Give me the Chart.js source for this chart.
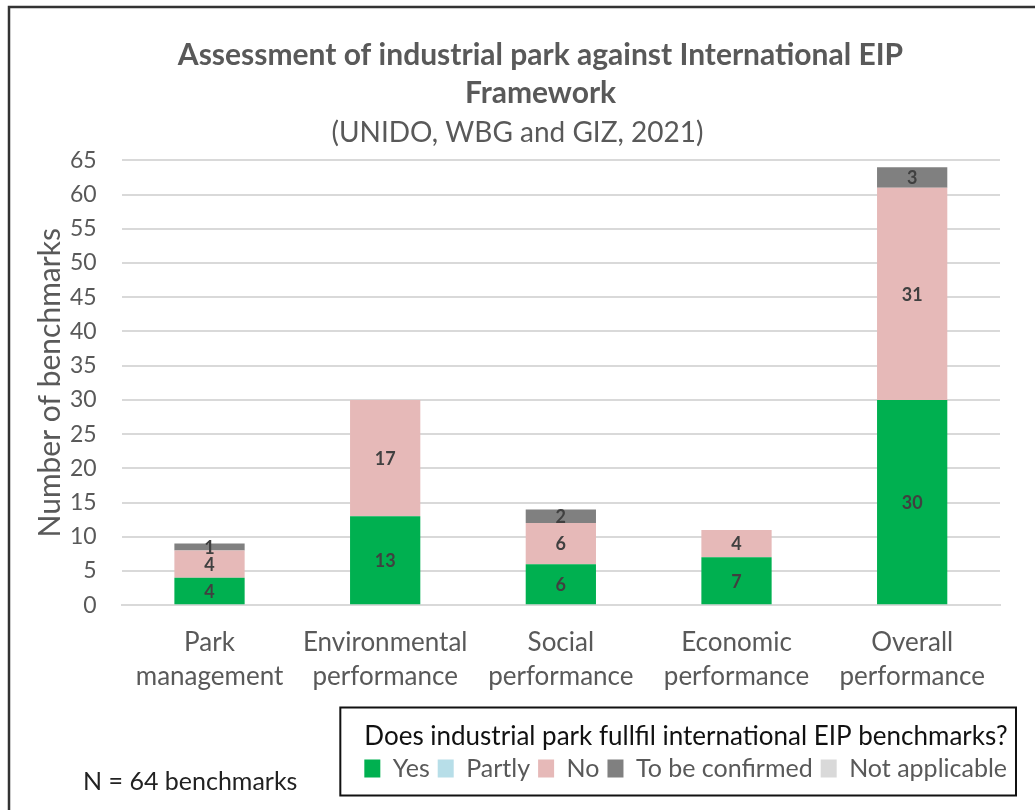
<!DOCTYPE html>
<html>
<head>
<meta charset="utf-8">
<script src="https://cdn.jsdelivr.net/npm/chart.js@4.4.1/dist/chart.umd.min.js"></script>
<style>
  html, body { margin: 0; padding: 0; background: #fff; }
  #wrap { position: relative; width: 1035px; height: 810px; }
</style>
</head>
<body>
<div id="wrap"><canvas id="chart" width="1035" height="810"></canvas></div>
<script>
const categories = [["Park", "management"], ["Environmental", "performance"], ["Social", "performance"], ["Economic", "performance"], ["Overall", "performance"]];
const yesValues = [4, 13, 6, 7, 30];
const partlyValues = [0, 0, 0, 0, 0];
const noValues = [4, 17, 6, 4, 31];
const confirmValues = [1, 0, 2, 0, 3];
const naValues = [0, 0, 0, 0, 0];
const yTicks = [0, 5, 10, 15, 20, 25, 30, 35, 40, 45, 50, 55, 60, 65];

const FONT = "Lato, 'Open Sans', sans-serif";
const GREY = "#595959";

// value labels + frame + footnote + legend border
const extras = {
    id: "extras",
    afterLayout(chart) {
        // the original frame runs past the right edge, so titles sit a bit right of the plot centre
        [chart.titleBlock, chart.subtitleBlock].forEach(b => {
            if (b) { b.left += 23; b.right += 23; }
        });
        if (chart.legend) { chart.legend.left += 15; chart.legend.right += 15; }
    },
    beforeDraw(chart) {
        const ctx = chart.ctx;
        ctx.save();
        ctx.strokeStyle = "#333";
        ctx.lineWidth = 2.5;
        ctx.beginPath();
        ctx.moveTo(9, 830);
        ctx.lineTo(9, 7);
        ctx.lineTo(1040, 7);
        ctx.stroke();
        ctx.restore();
    },
    afterDatasetsDraw(chart) {
        const ctx = chart.ctx;
        ctx.save();
        ctx.font = "bold 18px " + FONT;
        ctx.fillStyle = "#404040";
        ctx.textAlign = "center";
        ctx.textBaseline = "middle";
        chart.data.datasets.forEach((ds, i) => {
            const meta = chart.getDatasetMeta(i);
            meta.data.forEach((bar, j) => {
                const v = ds.data[j];
                if (!v) return;
                const mid = (bar.y + bar.base) / 2;
                ctx.fillText(String(v), bar.x, mid + 1);
            });
        });
        ctx.restore();
    },
    afterDraw(chart) {
        const ctx = chart.ctx;
        const lg = chart.legend;
        ctx.save();
        if (lg && lg.legendHitBoxes && lg.legendHitBoxes.length) {
            const boxes = lg.legendHitBoxes;
            const l = Math.min(...boxes.map(b => b.left)) - 24;
            const r = Math.max(...boxes.map(b => b.left + b.width)) + 9;
            const itemMid = boxes[0].top + boxes[0].height / 2;
            const top = itemMid - 61;
            const bottom = itemMid + 27;
            ctx.strokeStyle = "#111";
            ctx.lineWidth = 2;
            ctx.strokeRect(l, top, r - l, bottom - top);
        }
        ctx.font = "25px " + FONT;
        ctx.fillStyle = "#222";
        ctx.textBaseline = "middle";
        ctx.textAlign = "left";
        ctx.fillText("N = 64 benchmarks", 83, 782);
        ctx.restore();
    }
};

new Chart(document.getElementById("chart"), {
    type: "bar",
    data: {
        labels: categories,
        datasets: [
            { label: "Yes", data: yesValues, backgroundColor: "#00b050" },
            { label: "Partly", data: partlyValues, backgroundColor: "#b7dee8" },
            { label: "No", data: noValues, backgroundColor: "#e6b9b8" },
            { label: "To be confirmed", data: confirmValues, backgroundColor: "#808080" },
            { label: "Not applicable", data: naValues, backgroundColor: "#d9d9d9" }
        ]
    },
    options: {
        responsive: false,
        animation: false,
        devicePixelRatio: 1,
        datasets: { bar: { categoryPercentage: 1, barPercentage: 0.4 } },
        layout: { padding: { top: 36, left: 35, right: 35, bottom: 19 } },
        plugins: {
            title: {
                display: true,
                text: ["Assessment of industrial park against International EIP", "Framework"],
                color: GREY,
                font: { family: FONT, size: 30, weight: "bold", lineHeight: 1.27 },
                padding: { top: 0, bottom: 1 }
            },
            subtitle: {
                display: true,
                text: "(UNIDO, WBG and GIZ, 2021)",
                color: GREY,
                font: { family: FONT, size: 28, lineHeight: 1.4 },
                padding: { top: 0, bottom: 8 }
            },
            legend: {
                position: "bottom",
                align: "end",
                title: {
                    display: true,
                    text: "Does industrial park fullfil international EIP benchmarks?",
                    color: "#111",
                    position: "start",
                    font: { family: FONT, size: 26, lineHeight: 1.2 },
                    padding: { top: 17, bottom: -7 }
                },
                labels: {
                    color: GREY,
                    boxWidth: 16,
                    boxHeight: 18,
                    padding: 8,
                    font: { family: FONT, size: 25, lineHeight: 1.25 }
                }
            },
            tooltip: { enabled: false }
        },
        scales: {
            x: {
                stacked: true,
                grid: { display: false },
                border: { color: "#d9d9d9", width: 2 },
                ticks: { color: GREY, font: { family: FONT, size: 26, lineHeight: 1.3 }, padding: 13 }
            },
            y: {
                stacked: true,
                min: 0,
                max: 65,
                afterBuildTicks: (axis) => { axis.ticks = yTicks.map(v => ({ value: v })); },
                grid: { color: "#d9d9d9", lineWidth: 2, drawTicks: false },
                border: { display: false },
                ticks: { color: GREY, font: { family: FONT, size: 23 }, padding: 25 },
                title: {
                    display: true,
                    text: "Number of benchmarks",
                    color: GREY,
                    font: { family: FONT, size: 30, lineHeight: 1 },
                    padding: { top: 0, bottom: -20 }
                }
            }
        }
    },
    plugins: [extras]
});
</script>
</body>
</html>
